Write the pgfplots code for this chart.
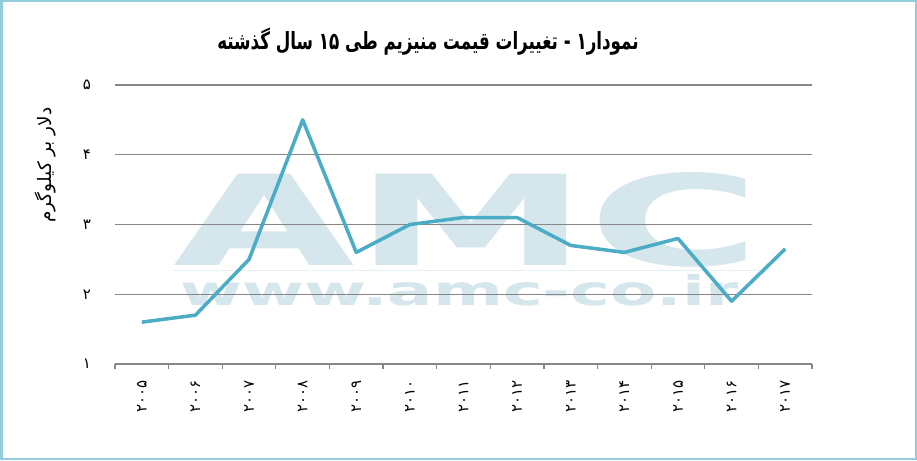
\documentclass[border=0pt]{standalone}
\usepackage{pgfplots}
\pgfplotsset{compat=1.18}
\usepackage{fontspec}
\newfontfamily\fa[Script=Arabic]{DejaVu Sans}
\newfontfamily\wmfont{DejaVu Sans}
\TeXXeTstate=1
\definecolor{lineblue}{HTML}{4BACC6}
\definecolor{frameblue}{HTML}{93CDDD}
\definecolor{wm}{HTML}{D5E6EC}
\definecolor{gridgray}{HTML}{868686}
\begin{document}
\begin{tikzpicture}[x=1pt,y=1pt]
\useasboundingbox (0,0) rectangle (917,460);
\fill[white] (0,0) rectangle (917,460);
% watermark
\node[anchor=south west, inner sep=0pt] at (173,193) {\color{wm}\resizebox{587pt}{93pt}{\wmfont\bfseries AMC}};
\draw[wm!60, line width=1pt] (173,189) -- (760,189);
\node[anchor=south west, inner sep=0pt] at (180,154) {\color{wm}\resizebox{558pt}{31pt}{\wmfont\bfseries www.amc-co.ir}};
\begin{axis}[
  at={(115pt,96pt)}, anchor=south west,
  scale only axis, width=697pt, height=279pt,
  xmin=-0.5, xmax=12.5, ymin=1, ymax=5,
  axis x line*=bottom, axis y line*=left,
  y axis line style={draw=none},
  x axis line style={draw=gridgray, line width=1.2pt},
  xtick={0,...,12},
  xticklabels={۲۰۰۵,۲۰۰۶,۲۰۰۷,۲۰۰۸,۲۰۰۹,۲۰۱۰,۲۰۱۱,۲۰۱۲,۲۰۱۳,۲۰۱۴,۲۰۱۵,۲۰۱۶,۲۰۱۷},
  minor xtick={-0.5,0.5,...,12.5},
  ytick={1,2,3,4,5},
  yticklabels={۱,۲,۳,۴,۵},
  tick align=outside,
  major tick length=0pt,
  minor tick length=5pt,
  minor tick style={draw=gridgray, line width=1.2pt},
  ymajorgrids,
  grid style={draw=gridgray, line width=1.2pt},
  x tick label style={font=\fa\fontsize{15}{18}\selectfont, rotate=90, anchor=east, inner xsep=16pt},
  y tick label style={font=\fa\fontsize{15}{18}\selectfont, anchor=center, xshift=-28pt},
  clip=false,
]
\addplot[color=lineblue, line width=3.5pt, line join=round, mark=none] coordinates {
(0,1.6)(1,1.7)(2,2.5)(3,4.5)(4,2.6)(5,3.0)(6,3.1)(7,3.1)(8,2.7)(9,2.6)(10,2.8)(11,1.9)(12,2.65)
};
\end{axis}
\node[font=\fa\bfseries\fontsize{22}{26}\selectfont] at (428,418) {\scalebox{0.76}[1.08]{\beginR نمودار۱ - تغییرات قیمت منیزیم طی ۱۵ سال گذشته\endR}};
\node[rotate=90, font=\fa\fontsize{18.5}{22}\selectfont] at (45,295) {\beginR دلار بر کیلوگرم\endR};
\draw[frameblue, line width=2.5pt] (1.25,1.25) rectangle (915.75,458.75);
\end{tikzpicture}
\end{document}
